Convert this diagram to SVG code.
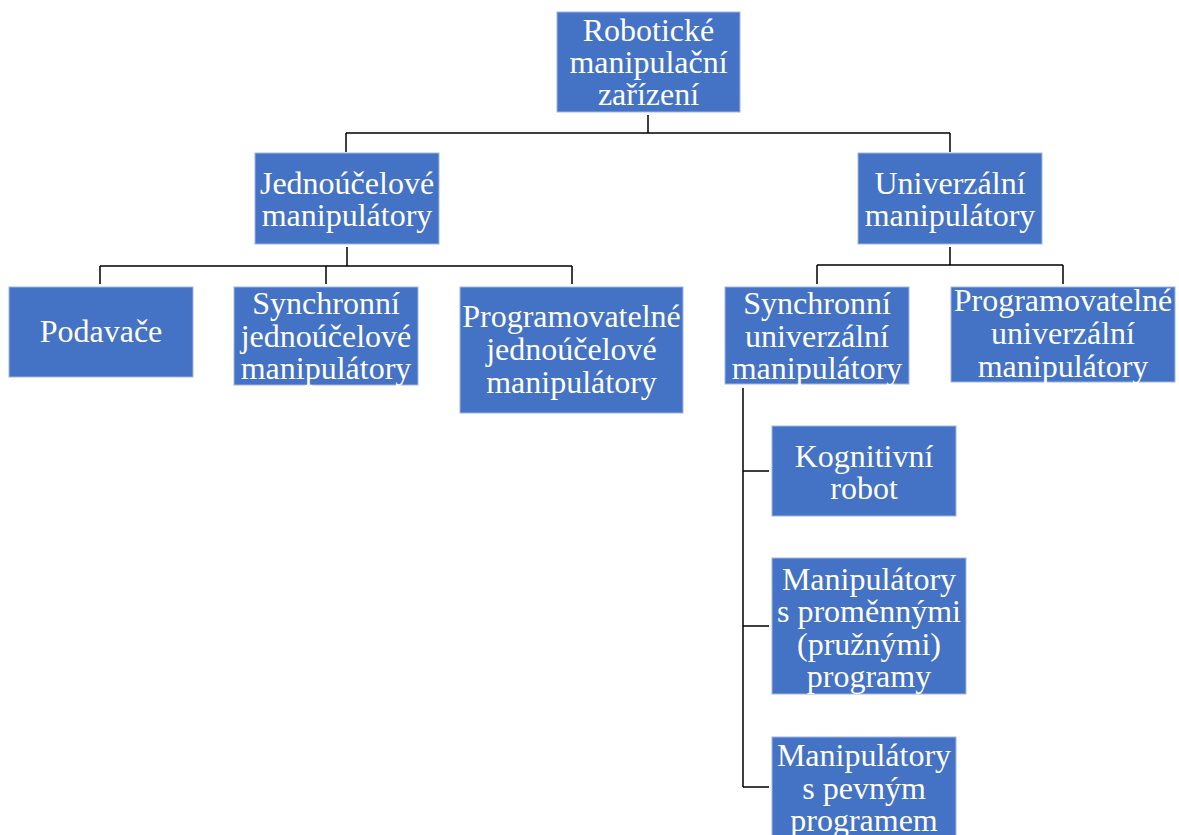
<svg xmlns="http://www.w3.org/2000/svg" width="1179" height="835" viewBox="0 0 1179 835">
<style>
.box{fill:#4472C4;stroke:#9fb6e2;stroke-width:1}
.t{font-family:"Liberation Serif","Times New Roman",serif;font-size:32px;fill:#ffffff;text-anchor:middle}
.c{fill:none;stroke:#000000;stroke-width:1.5}
</style>
<rect width="1179" height="835" fill="#ffffff"/>
<g id="connectors">
<path class="c" d="M648,115 V133 M346,133 H950 M346,133 V152 M950,133 V152"/>
<path class="c" d="M347,247 V266 M100,266 H572 M100,266 V284 M326,266 V284 M572,266 V284"/>
<path class="c" d="M950,247 V265 M817,265 H1063 M817,265 V284 M1063,265 V284"/>
<path class="c" d="M743,388 V787 M743,471 H769 M743,626 H769 M743,787 H769"/>
</g>
<g id="root">
<rect class="box" x="557" y="12" width="183" height="100"/>
<text class="t" x="648.5" y="41">Robotické</text>
<text class="t" x="648.5" y="73">manipulační</text>
<text class="t" x="648.5" y="105">zařízení</text>
</g>
<g id="jednoucelove">
<rect class="box" x="255" y="153" width="184" height="91"/>
<text class="t" x="347" y="194">Jednoúčelové</text>
<text class="t" x="347" y="226">manipulátory</text>
</g>
<g id="univerzalni">
<rect class="box" x="858" y="153" width="184" height="91"/>
<text class="t" x="950" y="194">Univerzální</text>
<text class="t" x="950" y="226">manipulátory</text>
</g>
<g id="podavace">
<rect class="box" x="9" y="287" width="184" height="90"/>
<text class="t" x="101" y="342">Podavače</text>
</g>
<g id="synchronni-jedn">
<rect class="box" x="234" y="287" width="184" height="98"/>
<text class="t" x="326" y="314">Synchronní</text>
<text class="t" x="326" y="347">jednoúčelové</text>
<text class="t" x="326" y="379">manipulátory</text>
</g>
<g id="programovatelne-jedn">
<rect class="box" x="460" y="287" width="223" height="126"/>
<text class="t" x="571.5" y="327">Programovatelné</text>
<text class="t" x="571.5" y="360">jednoúčelové</text>
<text class="t" x="571.5" y="393">manipulátory</text>
</g>
<g id="synchronni-univ">
<rect class="box" x="725" y="287" width="184" height="97"/>
<text class="t" x="817" y="314">Synchronní</text>
<text class="t" x="817" y="347">univerzální</text>
<text class="t" x="817" y="379">manipulátory</text>
</g>
<g id="programovatelne-univ">
<rect class="box" x="951" y="287" width="224" height="95"/>
<text class="t" x="1063" y="311">Programovatelné</text>
<text class="t" x="1063" y="344">univerzální</text>
<text class="t" x="1063" y="377">manipulátory</text>
</g>
<g id="kognitivni">
<rect class="box" x="772" y="426" width="184" height="90"/>
<text class="t" x="864" y="467">Kognitivní</text>
<text class="t" x="864" y="499">robot</text>
</g>
<g id="promenne">
<rect class="box" x="772" y="558" width="194" height="136"/>
<text class="t" x="869" y="590">Manipulátory</text>
<text class="t" x="869" y="622">s proměnnými</text>
<text class="t" x="869" y="655">(pružnými)</text>
<text class="t" x="869" y="687">programy</text>
</g>
<g id="pevny">
<rect class="box" x="772" y="737" width="184" height="100"/>
<text class="t" x="864" y="766">Manipulátory</text>
<text class="t" x="864" y="799">s pevným</text>
<text class="t" x="864" y="831">programem</text>
</g>
</svg>
